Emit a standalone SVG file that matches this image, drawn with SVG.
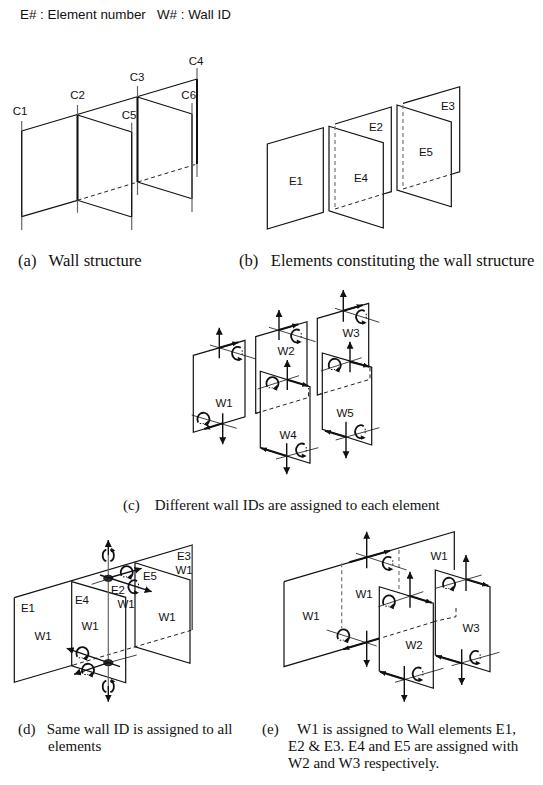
<svg xmlns="http://www.w3.org/2000/svg" width="543" height="785" viewBox="0 0 543 785">
<style>
text{fill:#111}
.s{font-family:"Liberation Sans",Arial,sans-serif;font-size:11.500px;text-anchor:middle}
.h{font-family:"Liberation Sans",Arial,sans-serif;font-size:13.400px}
.c{font-family:"Liberation Serif","Times New Roman",serif;font-size:15px}
.c2{font-family:"Liberation Serif","Times New Roman",serif;font-size:16.600px}
.p{fill:#fff;stroke:#111;stroke-width:1.2}
.n{fill:none;stroke:#111;stroke-width:1.2}
.b{fill:none;stroke:#111;stroke-width:2}
.g{fill:none;stroke:#666;stroke-width:1.2}
.gb{fill:none;stroke:#555;stroke-width:2}
.d{fill:none;stroke:#222;stroke-width:1;stroke-dasharray:4 3}
.dg{fill:none;stroke:#777;stroke-width:1.2;stroke-dasharray:4 3}
.t{fill:none;stroke:#111;stroke-width:.8}
.a{fill:none;stroke:#111;stroke-width:1.4;marker-end:url(#ah)}
.e{fill:none;stroke:#111;stroke-width:2;marker-end:url(#as)}
.r{fill:none;stroke:#111;stroke-width:1.800}
</style>
<defs>
<marker id="ah" markerUnits="userSpaceOnUse" markerWidth="7" markerHeight="10" refX="7" refY="3.500" orient="auto"><path d="M0 0L7 3.500L0 7Z" fill="#111"/></marker>
<marker id="as" markerUnits="userSpaceOnUse" markerWidth="7" markerHeight="6" refX="6" refY="2.500" orient="auto"><path d="M0 0L6 2.500L0 5Z" fill="#111"/></marker>
<g id="rot"><path class="r" d="M3 -5.500A5.500 6.500 0 1 0 3 5.500"/><path d="M0 3.500L5 6L0.500 8Z" fill="#111"/><path d="M4.500 -3V2" stroke="#111" stroke-width="1" stroke-dasharray="1.500 1.500"/></g>
<g id="rotb"><path class="r" d="M-4.500 3.500A6 6.500 0 1 1 3.500 6"/><path d="M5.500 1.500L5.500 7.500L1 5.500Z" fill="#111"/><path d="M-3 4.500H1" stroke="#111" stroke-width="1" stroke-dasharray="1.500 1.500"/></g>
<g id="roth"><path class="r" d="M-2 -6A5 6 0 0 0 -2 5.500"/><path class="r" d="M2 -6A5 6 0 0 1 2 5.500"/><path d="M3 -8L7 -5L2.500 -3.500Z" fill="#111"/></g>
</defs>

<text class="h" x="20" y="19" xml:space="preserve">E# : Element number   W# : Wall ID</text>

<g id="connectors">
<path class="n" d="M21.700 131L197 79M77.500 115L131.700 132M137.500 97L192 114M21.700 216.700L77.500 200.300L131.700 217M137.500 182L192 198.700"/>
<path class="d" d="M77.500 200.300L197 164"/>
</g>
<g id="C1"><path class="g" d="M21.700 121V230"/><path class="n" d="M21.700 131V216.700"/><text class="s" x="20" y="115">C1</text></g>
<g id="C2"><path class="g" d="M77.500 105V212.700"/><path class="b" d="M77.500 115V200.300"/><text class="s" x="77.500" y="99">C2</text></g>
<g id="C3"><path class="g" d="M137.500 86V195"/><path class="b" d="M137.500 97V182"/><text class="s" x="137" y="81">C3</text></g>
<g id="C4"><path class="g" d="M197 68V177"/><path class="b" d="M197 79V164"/><text class="s" x="196" y="65">C4</text></g>
<g id="C5"><path class="g" d="M131.700 122.700V230"/><path class="n" d="M131.700 132V217"/><text class="s" x="129" y="119">C5</text></g>
<g id="C6"><path class="g" d="M192 103V212"/><path class="gb" d="M192 114V198.700"/><text class="s" x="188.700" y="99">C6</text></g>
<text class="c2" x="18" y="266" xml:space="preserve">(a)   Wall structure</text>

<g id="E1b"><path class="p" d="M267.300 144L323.300 127.700V212.300L267.300 229Z"/><text class="s" x="296" y="185">E1</text></g>
<g id="E2b"><path class="n" d="M335 124L391.300 107V191.700L383.300 194"/><text class="s" x="376" y="131">E2</text></g>
<g id="E4b"><path class="p" d="M329 126.300L383.300 142.700V228L329 210.700Z"/><path class="dg" d="M335 126V209"/><path class="d" d="M335 209L383.300 194"/><text class="s" x="361" y="182">E4</text></g>
<g id="E3b"><path class="n" d="M403 103.300L459.700 86.700V171.700L451.300 174.300"/><text class="s" x="448" y="110">E3</text></g>
<g id="E5b"><path class="p" d="M397 105L451.300 122V206.700L397 190Z"/><path class="dg" d="M403 105V189"/><path class="d" d="M403 189L451.300 174.300"/><text class="s" x="426" y="156">E5</text></g>
<text class="c2" x="239" y="266" xml:space="preserve">(b)   Elements constituting the wall structure</text>

<g id="W1c"><path class="p" d="M193.300 355.300L245 340.300V416.700L193.300 432.300Z"/>
<path class="e" d="M219.300 347.700L238.300 342.300"/><path class="e" d="M222.700 423.300L204.300 429"/>
<path class="a" d="M219.300 358.300V327.700"/><path class="a" d="M222.700 413.300V444.300"/>
<path class="t" d="M210 345L256 359M191.700 415L236.700 428.300"/>
<use href="#rot" x="237.700" y="353.300"/><use href="#rotb" x="202.700" y="419"/>
<text class="s" x="224" y="407">W1</text></g>
<g id="W2c"><path class="p" d="M255.700 336.700L307 321.700V400L255.700 413.300Z"/>
<path class="e" d="M279 330L298.300 324.300"/><path class="a" d="M279 340V310"/><path class="t" d="M269 327.300L315.700 341.700"/>
<use href="#rot" x="296.700" y="336"/><text class="s" x="286" y="355">W2</text></g>
<g id="W4c"><path class="p" d="M260.300 371.300L310 386.700V463.300L260.300 447.700Z"/>
<path class="d" d="M256 413.300L308.500 397.500V388"/>
<path class="e" d="M287.300 379.700L308.300 386"/><path class="e" d="M286.700 456L261 448"/>
<path class="a" d="M287.300 390V360"/><path class="a" d="M286.700 443.300V474.300"/>
<path class="t" d="M257.700 389L299 375.700M276 459L318.300 447.700"/>
<use href="#rotb" x="271.700" y="383.300"/><use href="#rot" x="301.700" y="450"/>
<text class="s" x="288" y="439">W4</text></g>
<g id="W3c"><path class="p" d="M317.300 318.300L368.700 303.300V380L317.300 395Z"/>
<path class="e" d="M343.300 310.700L362.700 305"/><path class="a" d="M343.300 321.700V290"/><path class="t" d="M335 308.300L379.300 322.300"/>
<use href="#rot" x="361.700" y="316.700"/><text class="s" x="351" y="337">W3</text></g>
<g id="W5c"><path class="p" d="M322.300 353L371.700 367.300V445L322.300 429.300Z"/>
<path class="d" d="M317.300 395L370 379.300V368"/>
<path class="e" d="M350 361.700L369.300 366.700"/><path class="e" d="M346 437L325 430.700"/>
<path class="a" d="M350 372.300V341.700"/><path class="a" d="M346 421.700V458.300"/>
<path class="t" d="M321 371L361.700 357.700M335.700 440L379.300 427.700"/>
<use href="#rotb" x="334" y="365"/><use href="#rot" x="360.700" y="431.700"/>
<text class="s" x="345" y="417">W5</text></g>
<text class="c" x="123" y="510" xml:space="preserve">(c)    Different wall IDs are assigned to each element</text>

<g id="Wall-d"><path class="p" d="M14.300 597.700L192.300 545V630"/><path class="n" d="M14.300 597.700V682.300L73.300 665"/><path class="g" d="M192.300 545V630"/><path class="d" d="M73.300 665L192.300 630"/></g>
<g id="E5d"><path class="n" d="M135 562.700L190 580V663.300L135 646.700Z"/><text class="s" x="150" y="580">E5</text></g>
<g id="E4d"><path class="n" d="M71.700 581.700L125.700 597.300V682.700L71.700 665.700Z"/><text class="s" x="82" y="604">E4</text></g>
<g id="d-labels"><text class="s" x="28" y="612">E1</text><text class="s" x="43" y="640">W1</text><text class="s" x="90" y="630">W1</text><text class="s" x="167" y="621">W1</text><text class="s" x="118" y="594">E2</text><text class="s" x="126" y="608">W1</text><text class="s" x="184" y="560">E3</text><text class="s" x="184" y="574">W1</text></g>
<g id="d-axes">
<path class="g" d="M108.300 555V690"/>
<path class="a" d="M108.300 555V540"/><path class="a" d="M108.300 686V701.700"/>
<ellipse cx="108.300" cy="578.300" rx="4.500" ry="3" fill="#333" stroke="#111"/><ellipse cx="108.300" cy="662.700" rx="4.500" ry="3" fill="#333" stroke="#111"/>
<path class="t" d="M91.700 584.300L108 579"/><path class="a" d="M100 575L151.700 591.700"/><path class="a" d="M108.300 578L141.700 568.300"/>
<path class="a" d="M120 666.700L66.700 648.300"/><path class="a" d="M108.300 662.700L74 674.300"/><path class="t" d="M108.300 662.700L136.700 655"/>
<use href="#roth" x="108.300" y="555.700"/><use href="#roth" x="108.300" y="686.700"/>
<use href="#rotb" x="126" y="572.300"/><use href="#rot" x="134" y="586.700"/>
<use href="#rotb" x="81.700" y="653.300"/><use href="#rotb" x="87.300" y="670"/>
</g>
<text class="c" x="18" y="734" xml:space="preserve">(d)   Same wall ID is assigned to all</text>
<text class="c" x="48" y="751">elements</text>

<g id="Wall-e"><path class="p" d="M284 581.700L454.300 531.700V570"/><path class="n" d="M284 581.700V666.700L383.300 637.300"/>
<path class="dg" d="M341.700 563.300V628.300M399 550V631.700"/>
<path class="e" d="M349.300 562.300L390 550.700"/><path class="e" d="M383.300 637.300L343.300 649.300"/>
<path class="a" d="M366.700 568.300V531.700"/><path class="a" d="M366.700 630.700V666.700"/>
<path class="t" d="M356 553.300L406.700 570M326.700 630L376.700 646"/>
<use href="#rot" x="388.300" y="563.300"/><use href="#rotb" x="342.700" y="635.700"/>
<text class="s" x="311" y="620">W1</text><text class="s" x="364" y="598">W1</text><text class="s" x="439" y="560">W1</text></g>
<g id="E5e"><path class="p" d="M435.300 570L490 586.700V671.700L435.300 655Z"/>
<path class="d" d="M433.300 621.700L456 616.700V608"/>
<path class="e" d="M466 579.300L488.300 585.700"/><path class="e" d="M461.700 663.300L436 655.700"/>
<path class="a" d="M466 591V555"/><path class="a" d="M461.700 649.300V685"/>
<path class="t" d="M435.700 588.300L481.700 575M451.700 665.700L499.300 652.300"/>
<use href="#rotb" x="448.300" y="584"/><use href="#rot" x="475.700" y="657.300"/>
<text class="s" x="471" y="632">W3</text></g>
<g id="E4e"><path class="p" d="M379.300 586.700L433.300 603.300V688.300L379.300 671Z"/>
<path class="d" d="M383.300 637.300L433.300 622"/>
<path class="e" d="M410 596L431.700 602.700"/><path class="e" d="M404.300 679.300L380 671.700"/>
<path class="a" d="M410 607.700V571.700"/><path class="a" d="M404.300 666V701.700"/>
<path class="t" d="M378.300 606.700L423.300 591.700M395 682.300L443.300 668.300"/>
<use href="#rotb" x="388.300" y="601.700"/><use href="#rot" x="418.300" y="674"/>
<text class="s" x="414" y="649">W2</text></g>
<text class="c" x="262" y="734">(e)<tspan x="297">W1 is assigned to Wall elements E1,</tspan></text>
<text class="c" x="288" y="751">E2 &amp; E3. E4 and E5 are assigned with</text>
<text class="c" x="288" y="768">W2 and W3 respectively.</text>
</svg>
